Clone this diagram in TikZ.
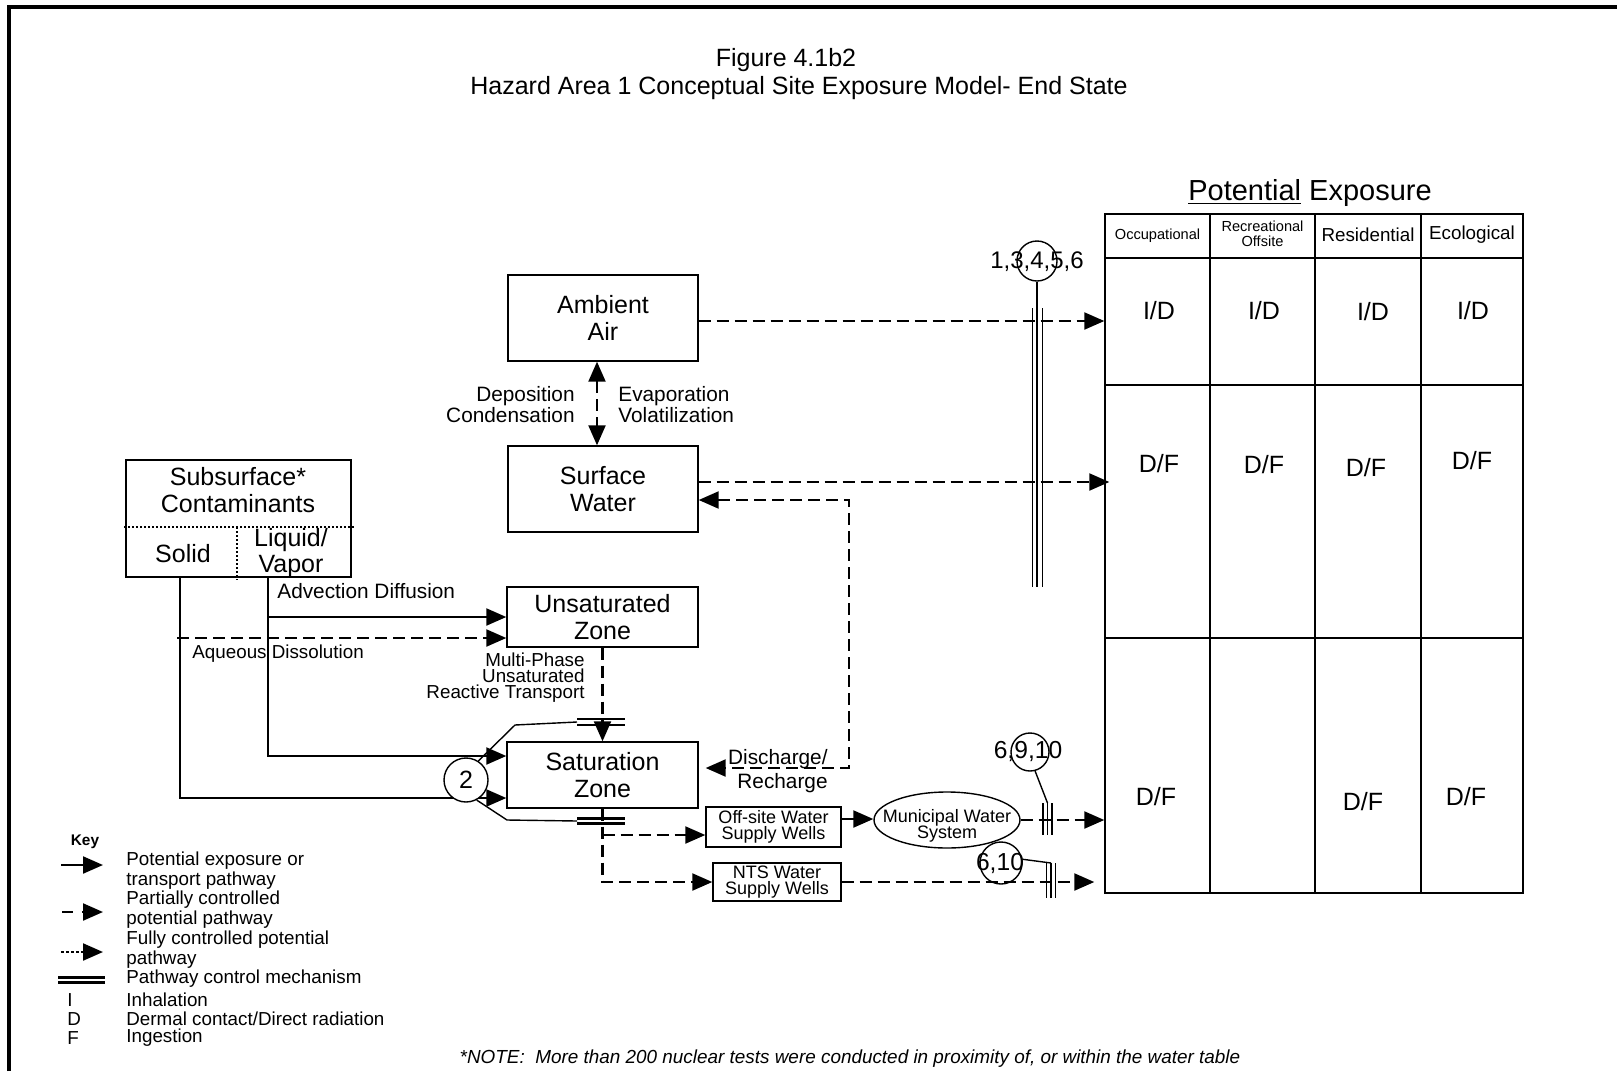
\documentclass[tikz,border=0pt]{standalone}
\usepackage{fontspec}
\setmainfont{Liberation Sans}
\usetikzlibrary{arrows.meta,shapes.geometric}
\newcommand{\txtL}{\fontsize{12.5}{13.5}\selectfont}
\newcommand{\txtM}{\fontsize{10.4}{10.5}\selectfont}
\newcommand{\txtS}{\fontsize{9.4}{10}\selectfont}
\newcommand{\txtN}{\fontsize{9}{8.2}\selectfont}
\newcommand{\txtT}{\fontsize{7.3}{7.5}\selectfont}

\begin{document}
\begin{tikzpicture}[x=0.5pt,y=-0.5pt,
    >={Triangle[length=10pt,width=8.5pt]},
    box/.style={draw,line width=0.7pt,align=center,inner sep=0pt,font=\txtL},
    lbl/.style={inner sep=0pt,align=center},
    sol/.style={line width=1.1pt},
    dsh/.style={line width=1.1pt,dash pattern=on 6pt off 3pt},
    thn/.style={line width=0.7pt},
    ctl/.style={line width=1.3pt}]
    \useasboundingbox (0,0) rectangle (1617,1071);
    \draw[line width=1.6pt] (9,1071) -- (9,7) -- (1617,7);

    \node[lbl,font=\txtL] (t1) at (786,60) {Figure 4.1b2};
    \node[lbl,font=\txtL] (t2) at (799,88) {Hazard Area 1 Conceptual Site Exposure Model- End State};

    % media boxes
    \node[box,minimum width=95pt,minimum height=43pt] (air) at (603,318) {Ambient\\Air};
    \node[box,minimum width=95pt,minimum height=43pt] (sw) at (603,489) {Surface\\Water};
    \node[box,minimum width=95.5pt,minimum height=30pt] (unsat) at (602.5,617) {Unsaturated\\Zone};
    \node[box,minimum width=95.5pt,minimum height=33pt] (sat) at (602.5,775) {Saturation\\Zone};
    \node[box,minimum width=112.5pt,minimum height=58.5pt] (sub) at (238.5,518.5) {};
    \node[lbl,font=\txtL] (subt) at (238,490) {Subsurface*\\Contaminants};
    \node[lbl,font=\txtL] (solid) at (183,554) {Solid};
    \node[lbl,font=\fontsize{12.5}{13}\selectfont] (liq) at (291,553) {Liquid/\\Vapor};
    \draw[line width=1pt,dash pattern=on 1pt off 1pt] (124,527) -- (354,527) (237,527) -- (237,580);
    \node[box,font=\txtN,minimum width=67.5pt,minimum height=20pt] (off) at (773.5,827) {Off-site Water\\Supply Wells};
    \node[box,font=\txtN,minimum width=64pt,minimum height=19pt] (nts) at (777,882) {NTS Water\\Supply Wells};
    \node[draw,ellipse,thn,minimum width=73pt,minimum height=28pt,inner sep=0pt] (mws) at (947,820) {};
    \node[lbl,font=\txtN] (mwst) at (947,826) {Municipal Water\\System};

    % exposure table
    \node[lbl,font=\fontsize{14.5}{15}\selectfont] (pe) at (1310,193) {\underline{Potential} Exposure};
    \node[draw,thn,minimum width=209pt,minimum height=339.5pt,inner sep=0pt] (exp) at (1314,553.5) {};
    \foreach \x in {1210,1315,1421} \draw[thn] (\x,214) -- (\x,893);
    \foreach \y in {258,385,638} \draw[thn] (1105,\y) -- (1523,\y);
    \node[lbl,font=\txtT] (h1) at (1157.5,236) {Occupational};
    \node[lbl,font=\txtT] (h2) at (1262.5,234) {Recreational\\Offsite};
    \node[lbl,font=\txtS] (h3) at (1368,235) {Residential};
    \node[lbl,font=\txtS] (h4) at (1472,235) {Ecological};
    \foreach \x/\y/\t in {1159/311/{I/D},1264/311/{I/D},1373/312/{I/D},1473/311/{I/D},
      1159/464/{D/F},1264/465/{D/F},1366/468/{D/F},1472/461/{D/F},
      1156/797/{D/F},1363/802/{D/F},1466/797/{D/F}}
      \node[lbl,font=\txtL] at (\x,\y) {\t};

    % connectors
    \coordinate (s1) at (180,577);
    \coordinate (l1) at (268,577);
    \coordinate (rc) at (849,640);
    \coordinate (cu) at (577,722);
    \coordinate (cd) at (577,821);
    \coordinate (d1) at ([yshift=-10.5pt]unsat.west);
    \coordinate (d2) at ([yshift=-4pt]off.west);
    \coordinate (d3) at ([yshift=4pt]off.east);
    \coordinate (d4) at (nts.east -| exp.west);
    \coordinate (d5) at ([yshift=3.5pt]sw.east);

    \draw[dsh,<->] ([xshift=-3pt]air.south) -- ([xshift=-3pt]sw.north);
    \draw[dsh,->] ([yshift=-1.5pt]air.east) -- ([yshift=-1.5pt]air.east -| exp.west);
    \draw[dsh,->] (d5) -- ([xshift=2.5pt]d5 -| exp.west);
    \draw[dsh,<->] ([yshift=-5.5pt]sw.east) -| (rc) |- ([xshift=3.5pt,yshift=3.5pt]sat.east);
    \draw[sol,->] (s1) |- ([yshift=-11.5pt]sat.west);
    \draw[sol,->] (l1) |- ([yshift=9.5pt]sat.west);
    \draw[sol,->] (l1 |- unsat.west) -- (unsat.west);
    \draw[dsh,->] ([xshift=-1.5pt]s1 |- d1) -- (d1);
    \draw[dsh,->] (unsat.south) -- (sat.north);
    \draw[dsh,->] (sat.south) |- (nts.west);
    \draw[dsh,->] (sat.south |- d2) -- (d2);
    \draw[sol,->] (d3) -- (d3 -| mws.west);
    \draw[dsh,->] (mws.east) -- (mws.east -| exp.west);
    \draw[dsh,->] (nts.east) -- ([xshift=-5pt]d4);

    \node[lbl,font=\txtM,anchor=east,align=right] (dep) at (575,405) {Deposition\\Condensation};
    \node[lbl,font=\txtM,anchor=west,align=left] (eva) at (618,405) {Evaporation\\Volatilization};
    \node[lbl,font=\txtM,anchor=west] (adv) at (277,591) {Advection Diffusion};
    \node[lbl,font=\txtS,anchor=west] (aq) at (192,654) {Aqueous Dissolution};
    \node[lbl,font=\fontsize{9.4}{8}\selectfont,anchor=east,align=right] (mpt) at (585,678) {Multi-Phase\\Unsaturated\\Reactive Transport};
    \node[lbl,font=\fontsize{10.4}{11.8}\selectfont,anchor=east,align=right] (dis) at (828,771) {Discharge/\\Recharge};

    % control mechanisms
    \draw[ctl] ([yshift=1.5pt]cu) -- ++(48,0) ([yshift=-1.5pt]cu) -- ++(48,0);
    \draw[ctl] ([yshift=1.25pt]cd) -- ++(48,0) ([yshift=-1.25pt]cd) -- ++(48,0);
    \node[draw,circle,thn,fill=white,minimum size=22pt,inner sep=0pt,font=\txtL] (c2) at (466,780) {2};
    \draw[thn] (c2.57) -- (515,725) -- (cu);
    \draw[thn] (c2.-62) -- (507,820) -- (cd);

    \coordinate (b1) at (1037,308);
    \coordinate (b2) at (1037,587);
    \node[draw,circle,thn,minimum size=20pt,inner sep=0pt] (c1) at (1037,261) {};
    \node[lbl,font=\fontsize{12}{12}\selectfont] (n1) at (1037,262) {1,3,4,5,6};
    \draw[thn] (c1.south) -- (b1);
    \draw[line width=0.5pt] ([xshift=-2.5pt]b1) -- ([xshift=-2.5pt]b2) ([xshift=2.5pt]b1) -- ([xshift=2.5pt]b2);
    \draw[ctl] (b1) -- (b2);

    \coordinate (b3) at (1047.5,803);
    \node[draw,circle,thn,minimum size=19pt,inner sep=0pt] (c3) at (1030,752) {};
    \node[lbl,font=\fontsize{12.3}{12}\selectfont] (n2) at (1028,751) {6,9,10};
    \draw[thn] (c3.-75) -- (b3);
    \foreach \x in {1043,1047.5,1052} \draw[line width=0.9pt] (\x,803) -- (\x,835);

    \coordinate (b4) at (1051,863);
    \node[draw,circle,thn,minimum size=21pt,inner sep=0pt] (c4) at (1001,863) {};
    \node[lbl,font=\fontsize{12.3}{12}\selectfont] (n3) at (1000,863) {6,10};
    \draw[thn] (c4.10) -- (b4);
    \foreach \x in {1046.5,1051,1055.5} \draw[line width=0.9pt] (\x,863) -- (\x,898);

    % key
    \node[lbl,font=\bfseries\fontsize{7.7}{8}\selectfont] (key) at (85,842) {Key};
    \coordinate (k1) at (61,865);
    \coordinate (k2) at (62,912);
    \coordinate (k3) at (61,952);
    \draw[sol,->] (k1) -- ++(42,0);
    \draw[sol,dash pattern=on 5.5pt off 4.5pt,->] (k2) -- ++(41,0);
    \draw[sol,dash pattern=on 1.5pt off 1pt,->] (k3) -- ++(42,0);
    \draw[ctl] (58,977.5) -- (105,977.5) (58,982.5) -- (105,982.5);
    \foreach \y/\t in {861/Potential exposure or,881/transport pathway,900/Partially controlled,
      920/potential pathway,940/Fully controlled potential,960/pathway,979/Pathway control mechanism,
      1000/Inhalation,1019/{Dermal contact/Direct radiation},1038/Ingestion}
      \node[lbl,font=\txtS,anchor=west] at (126,\y) {\t};
    \node[lbl,font=\txtS,anchor=west] (ki) at (67,1000) {I};
    \node[lbl,font=\txtS,anchor=west] (kd) at (67,1019) {D};
    \node[lbl,font=\txtS,anchor=west] (kf) at (67,1038) {F};

    \node[lbl,font=\itshape\fontsize{9.45}{10}\selectfont] (note) at (850,1059) {*NOTE:\ \ More than 200 nuclear tests were conducted in proximity of, or within the water table};
\end{tikzpicture}
\end{document}
